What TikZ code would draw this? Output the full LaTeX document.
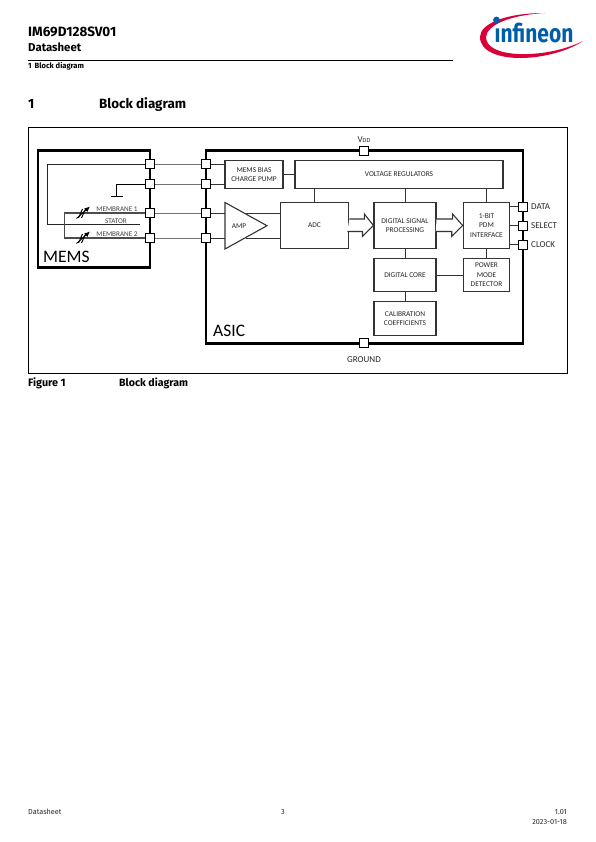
\documentclass[tikz,border=0pt]{standalone}
\usepackage{graphicx}
\usepackage{fontspec}
\setmainfont{Fira Sans}
\newfontfamily\diagfont{Carlito}
\usetikzlibrary{positioning,arrows.meta,calc}
\definecolor{IFXBlue}{HTML}{005DA9}
\definecolor{IFXRed}{HTML}{D9003A}
\definecolor{WireGray}{HTML}{333333}
\begin{document}
\begin{tikzpicture}[x=1pt,y=-1pt,
    chip/.style={draw=black, line width=2.3pt},
    pin/.style={draw=black, fill=white, line width=0.8pt, minimum size=9pt, inner sep=0pt},
    block/.style={draw=WireGray, line width=1.1pt, fill=white, align=center, inner sep=0pt, font=\diagfont\fontsize{7.4}{9.4}\selectfont, text=black!85},
    wire/.style={draw=WireGray, line width=0.9pt},
    bus/.style={draw=WireGray, line width=1.1pt, fill=white},
    lab/.style={font=\diagfont\fontsize{9}{10}\selectfont, text=black!85, inner sep=0pt},
    tinylab/.style={font=\diagfont\fontsize{7.2}{8}\selectfont, text=black!75, inner sep=0pt},
    head/.style={anchor=base west, inner sep=0pt, font=\bfseries\fontsize{#1}{#1}\selectfont},
    foot/.style={inner sep=0pt, font=\fontsize{7.3}{8}\selectfont, text=black!85},
  ]
  \useasboundingbox (0,0) rectangle (595,842);
  % page header
  \node[head=13.5] (title) at (28,36.7) {IM69D128SV01};
  \node[head=11.4] (sheet) at (28,51.7) {Datasheet};
  \coordinate (ruleL) at (28,60.5);
  \coordinate (ruleR) at (453,60.5);
  \draw[line width=0.8pt] (ruleL) -- (ruleR);
  \node[head=7.6] (crumb) at (28,68.7) {1\hspace{3pt}Block diagram};
  \node[head=13.4] (secnum) at (28,108.5) {1};
  \node[head=13.4] (sectitle) at (99,108.5) {Block diagram};
  % logo
  \fill[IFXRed] (545,13) .. controls (505,13) and (480,24) .. (480,37) .. controls (480,52) and (500,58) .. (520,58)
     .. controls (545,58) and (570,50) .. (583,41) .. controls (565,50) and (540,55) .. (518,54)
     .. controls (498,53) and (486,47) .. (486,37) .. controls (487,25) and (510,15) .. (545,13) -- cycle;
  \node[anchor=base west, inner sep=0pt, text=IFXBlue, font=\bfseries\fontsize{21}{21}\selectfont] (logo) at (494.5,42.5) {\scalebox{1}[1.22]{\i nfineon}};
  \fill[IFXBlue] (496.5,20) circle (3.4);
  % figure frame
  \draw[line width=0.8pt] (28,127) rectangle (567,373);
  % MEMS and ASIC bodies
  \draw[chip] (38,150.5) rectangle (150,267.5);
  \draw[chip] (206,150.5) rectangle (523,343.5);
  \node[anchor=west, inner sep=0pt, font=\diagfont\fontsize{17.5}{18}\selectfont] (memslab) at (43,257) {MEMS};
  \node[anchor=west, inner sep=0pt, font=\diagfont\fontsize{17.5}{18}\selectfont] (asiclab) at (213,331) {ASIC};
  % blocks
  \node[block, minimum width=58pt, minimum height=28.5pt] (bias) at (254,174.5) {MEMS BIAS\\CHARGE PUMP};
  \node[block, minimum width=208pt, minimum height=28.5pt] (regs) at (399,174.5) {VOLTAGE REGULATORS};
  \node[block, minimum width=68.5pt, minimum height=45.5pt] (adc) at (314.5,225.5) {ADC};
  \node[block, minimum width=62pt, minimum height=45.5pt] (dsp) at (405,225.5) {DIGITAL SIGNAL\\PROCESSING};
  \node[block, minimum width=46.5pt, minimum height=45.5pt] (pdm) at (486.5,225.5) {1-BIT\\PDM\\INTERFACE};
  \node[block, minimum width=62pt, minimum height=33.5pt] (core) at (405,275) {DIGITAL CORE};
  \node[block, minimum width=46.5pt, minimum height=33.5pt] (power) at (486.5,275) {POWER\\MODE\\DETECTOR};
  \node[block, minimum width=62pt, minimum height=33.5pt] (calib) at (405,318.5) {CALIBRATION\\COEFFICIENTS};
  \coordinate (ampA) at (225,202.5);
  \coordinate (ampB) at (225,249);
  \coordinate (ampC) at (267,225.7);
  % pins
  \foreach \name/\ypos in {a/164,b/184,c/213,d/238}{
    \node[pin] (mems\name) at (150,\ypos) {};
    \node[pin] (asic\name) at (206,\ypos) {};
  }
  \node[pin] (vdd) at (364,150.5) {};
  \node[pin] (gnd) at (364,343) {};
  \node[pin] (data) at (523,206.5) {};
  \node[pin] (select) at (523,225.5) {};
  \node[pin] (clock) at (523,244.5) {};
  % pin labels
  \node[lab] (vddlab) at (364,139.5) {V\raisebox{-0.3pt}{\fontsize{6.2}{7}\selectfont DD}};
  \node[lab] (gndlab) at (364,359.5) {GROUND};
  \node[lab, anchor=west] (datalab) at (531,206.5) {DATA};
  \node[lab, anchor=west] (selectlab) at (531,225.5) {SELECT};
  \node[lab, anchor=west] (clocklab) at (531,244.5) {CLOCK};
  % wires between chips
  \foreach \name in {a,b,c,d}{
    \draw[draw=black!55, line width=0.8pt] (mems\name) -- (asic\name);
  }
  % wires inside the ASIC
  \draw[wire] (asica) -- (asica -| bias.west);
  \draw[wire] (asicb) -- (asicb -| bias.west);
  \draw[wire] (asicc) -- (asicc -| ampA);
  \draw[wire] (asicd) -- (asicd -| ampA);
  \draw[wire] (bias) -- (regs);
  \draw[wire] (regs.south -| adc) -- (adc);
  \draw[wire] (regs.south -| dsp) -- (dsp);
  \draw[wire] (regs.south -| pdm) -- (pdm);
  \draw[wire] (dsp) -- (core);
  \draw[wire] (core) -- (calib);
  \draw[wire] (pdm) -- (power);
  \draw[wire] (core) -- (power);
  \draw[wire] (pdm.east |- data) -- (data);
  \draw[wire] (pdm.east |- select) -- (select);
  \draw[wire] (pdm.east |- clock) -- (clock);
  \draw[wire] (246,213) -- (asicc -| adc.west);
  \draw[wire] (246,238) -- (asicd -| adc.west);
  \draw[block] (ampA) -- (ampB) -- (ampC) -- cycle;
  \node[block, draw=none, fill=none] (amp) at (239,226) {AMP};
  % wide arrows
  \draw[bus] ($(adc.east)+(0,-6.5)$) -- ++(15,0) -- ++(0,-5) -- (dsp.west) -- ++(-11,11) -- ++(0,-5) -- ++(-15,0);
  \draw[bus] ($(dsp.east)+(0,-6.5)$) -- ++(16,0) -- ++(0,-5) -- (pdm.west) -- ++(-11,11) -- ++(0,-5) -- ++(-16,0);
  % MEMS inside
  \draw[wire, draw=black!85] (memsa) -| (47,224.5) -- (140,224.5);
  \draw[wire, draw=black] (memsb) -| (116.7,196.7);
  \draw[wire, draw=black, line width=1.1pt] (111,196.7) -- (122.5,196.7);
  \draw[wire, draw=black!70, line width=1.4pt] (memsc) -- (64.3,213) -- (64.3,238) -- (memsd);
  \foreach \ypos in {213,238}{
    \draw[black, line width=1pt] (78.5,\ypos+5) -- (82.5,\ypos-4);
    \draw[black, line width=1pt] (81.5,\ypos+5) -- (85.5,\ypos-4);
    \draw[black, line width=0.9pt, -{Latex[length=5.5pt,width=5pt]}] (76.5,\ypos+5.5) -- (90,\ypos-6.5);
  }
  \node[tinylab] (memb1) at (117,209.5) {MEMBRANE 1};
  \node[tinylab] (stator) at (116,221) {STATOR};
  \node[tinylab] (memb2) at (117,234) {MEMBRANE 2};
  % caption
  \node[head=10.8] (figlab) at (28,386.5) {Figure 1};
  \node[head=10.6] (figtitle) at (119,386.5) {Block diagram};
  % page footer
  \node[foot, anchor=base west] (footL) at (28,814) {Datasheet};
  \node[foot, anchor=base] (footM) at (283,814) {3};
  \node[foot, anchor=base east] (footR) at (567,814) {1.01};
  \node[foot, anchor=base east] (footD) at (567,824) {2023-01-18};
\end{tikzpicture}
\end{document}
